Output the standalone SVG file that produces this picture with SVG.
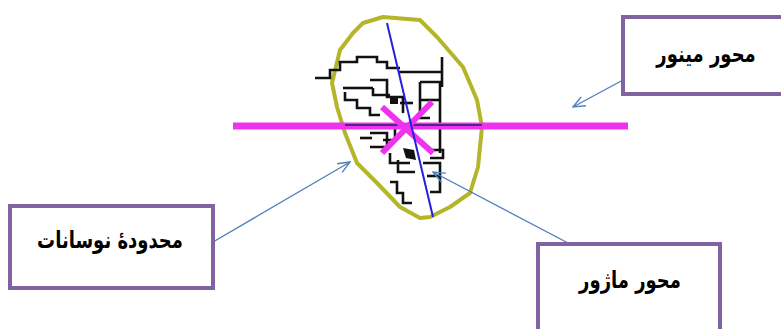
<svg xmlns="http://www.w3.org/2000/svg" width="781" height="329" viewBox="0 0 781 329">
<style>
.box{fill:#fff;stroke:#8064A2;stroke-width:4}
.lbl{font-family:"DejaVu Sans","Noto Sans",sans-serif;font-weight:bold;font-size:18px;fill:#000;text-anchor:middle}
.con{stroke:#4F81BD;stroke-width:1.4;fill:none;marker-end:url(#arr)}
.blk{stroke:#111;stroke-width:2.6;fill:none;stroke-linejoin:miter}
</style>
<defs>
<marker id="arr" viewBox="0 0 14 12" refX="13" refY="6" markerWidth="14" markerHeight="12" markerUnits="userSpaceOnUse" orient="auto">
<path d="M1,1 L13,6 L1,11" fill="none" stroke="#4F81BD" stroke-width="1.4"/>
</marker>
</defs>
<rect width="781" height="329" fill="#fff"/>
<g id="figure">
<path d="M363,23 L383,17 L420,20 L437,37 L463,67 L477,100 L482,127 L478,167 L470,193 L450,207 L430,217 L420,218 L400,207 L377,183 L357,163 L345,133 L337,107 L332,83 L340,50 L353,33 Z" fill="none" stroke="#B5B52A" stroke-width="4" stroke-linejoin="round"/>
<g class="blk">
<path d="M315,78 H330 V70 H340 V62 H357 V57 H377 V62 H387 V68 H400"/>
<path d="M398,72 H443 M442,57 V87"/>
<path d="M343,88 H373"/>
<path d="M345,92 V100 H357 V108 H370 V115 H380"/>
<path d="M370,80 H387 V97 H403 V113"/>
<path d="M373,88 V95 H390"/>
<path d="M420,82 H440 V153"/>
<path d="M420,100 H440"/>
<path d="M420,82 V118 H430"/>
<path d="M400,103 H413"/>
<path d="M370,133 H387 V147 H370"/>
<path d="M360,138 H372"/>
<path d="M390,153 V163 H410"/>
<path d="M427,150 H443 V158 H430"/>
<path d="M423,163 H440 V192 H430"/>
<path d="M427,176 H440"/>
<path d="M390,182 H397 V193 H403 V203 H412"/>
<path d="M383,140 H395 V125"/>
<path d="M398,160 V172 H415"/>
</g>
<path d="M403,148 L414,150 L416,160 L406,158 Z" fill="#111"/>
<path d="M390,97 L398,97 L398,104 L390,104 Z" fill="#111"/>
<line x1="233" y1="126" x2="628" y2="126" stroke="#EE33EE" stroke-width="7"/>
<line x1="345" y1="125" x2="482" y2="125" stroke="#5A1E8C" stroke-width="2"/>
<line x1="382" y1="107" x2="433" y2="153" stroke="#EE33EE" stroke-width="6"/>
<line x1="432" y1="102" x2="382" y2="153" stroke="#EE33EE" stroke-width="6"/>
<line x1="387" y1="23" x2="433" y2="217" stroke="#2222DD" stroke-width="2"/>
</g>
<g id="connectors">
<line class="con" x1="623" y1="80" x2="573" y2="107"/>
<line class="con" x1="213" y1="242" x2="350" y2="162"/>
<line class="con" x1="570" y1="244" x2="433" y2="172"/>
</g>
<g id="minor">
<rect class="box" x="623" y="17" width="170" height="77"/>
<text class="lbl" transform="translate(706,62) scale(1,1.3)">محور مینور</text>
</g>
<g id="range">
<rect class="box" x="10" y="206" width="203" height="82"/>
<text class="lbl" transform="translate(110,248) scale(1,1.3)">محدودهٔ نوسانات</text>
</g>
<g id="major">
<rect class="box" x="538" y="244" width="182" height="100"/>
<text class="lbl" transform="translate(630,288) scale(1,1.3)">محور ماژور</text>
</g>
</svg>
